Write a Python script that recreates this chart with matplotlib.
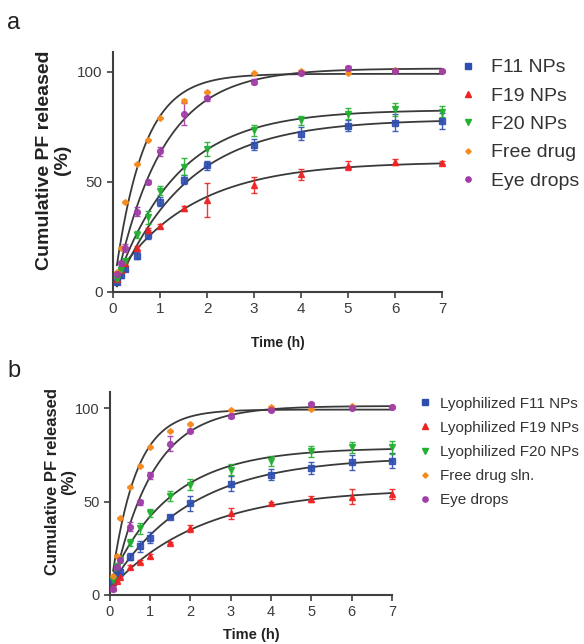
import numpy as np
import matplotlib
matplotlib.use("Agg")
import matplotlib.pyplot as plt
from matplotlib.lines import Line2D

plt.rcParams['font.family'] = ['Liberation Sans', 'DejaVu Sans']

# sampling times (h)
time_h = [0.083, 0.167, 0.25, 0.5, 0.75, 1, 1.5, 2, 3, 4, 5, 6, 7]

# ---- panel a: nanoparticle suspensions ----
a_f11 = [4.5, 7.5, 10.5, 16.5, 26, 41, 51, 57.5, 67, 72, 75.6, 77, 77.7]
a_f11_err = [1, 1, 1, 1.5, 2, 2, 2, 2, 2.5, 3, 2.5, 4, 3.5]
a_f19 = [6, 10, 13, 20, 28, 30, 38, 41.8, 48.6, 53.6, 57.3, 59, 58.8]
a_f19_err = [0.5, 1, 1, 1, 1, 1, 1, 7.5, 3.5, 2.5, 2, 1.5, 0.5]
a_f20 = [6, 10, 14, 26, 34, 46, 57, 65, 73.6, 78, 81, 83, 82]
a_f20_err = [1, 1, 1, 1.5, 3, 2, 4, 3, 2.5, 2, 2.5, 3, 2.5]
a_free = [9, 20, 41, 58, 69, 79, 87, 91, 99.4, 100.5, 99.7, 101, 100.5]
a_free_err = [0.5] * 13
a_eye = [8, 13, 20, 36.5, 50, 64, 81, 88, 95.6, 99.7, 102, 100.5, 100.3]
a_eye_err = [1, 1, 2, 2, 1, 2, 5, 1, 1, 0.5, 0.5, 0.5, 0.5]

# ---- panel b: lyophilized nanoparticles ----
b_f11 = [7, 10.7, 12.5, 20.5, 26, 30.7, 42, 49, 59.5, 64.3, 68, 71, 71.8]
b_f11_err = [1, 1, 1.5, 2, 3, 3, 1, 4, 4, 3, 3, 4, 4]
b_f19 = [4.5, 7.5, 9.8, 15, 17.9, 21, 28, 35.7, 43.8, 49, 51.4, 52.7, 54]
b_f19_err = [0.5, 0.5, 0.5, 1, 1, 1, 0.5, 2, 3, 1, 1.5, 4, 2.5]
b_f20 = [8, 15, 19, 28, 35.7, 43.8, 53, 59, 67, 71.8, 77, 79, 79]
b_f20_err = [2, 2, 2, 2, 3, 2, 2.5, 3, 3, 2.5, 3, 3, 3.5]
b_free = [10, 21, 41, 58, 69, 79, 88, 91.6, 99, 100.9, 99.5, 101, 100.4]
b_free_err = [0.5] * 13
b_eye = [3, 15, 19, 36.6, 49.6, 64, 81, 88, 96, 99, 102, 100, 100.4]
b_eye_err = [1, 1, 1, 2.5, 1.5, 2, 4, 1, 1, 0.5, 1, 0.5, 0.5]

labels_a = ["F11 NPs", "F19 NPs", "F20 NPs", "Free drug", "Eye drops"]
labels_b = ["Lyophilized F11 NPs", "Lyophilized F19 NPs", "Lyophilized F20 NPs",
            "Free drug sln.", "Eye drops"]

colors = ["#2f4fb0", "#ee2222", "#22b030", "#f58a1f", "#a03ca8"]
markers = ["s", "^", "v", "D", "o"]
msizes = [4.2, 4.2, 4.2, 3.0, 4.2]


def fit_first_order(t, y):
    """Least-squares fit of y = A - B*exp(-k t), grid over k."""
    t = np.asarray(t, float)
    y = np.asarray(y, float)
    best = None
    for k in np.linspace(0.05, 6, 3000):
        X = np.column_stack([np.ones_like(t), -np.exp(-k * t)])
        coef, *_ = np.linalg.lstsq(X, y, rcond=None)
        r = np.sum((X @ coef - y) ** 2)
        if best is None or r < best[0]:
            best = (r, k, coef)
    _, k, (A, B) = best
    return lambda tt: A - B * np.exp(-k * tt)


def draw_panel(ax, series, errs, fs_tick, fs_ylabel, fs_xlabel, ylim_top, xpad,
               ylabel_xy):
    tt = np.linspace(time_h[0], 7, 300)
    for y, e, c, m, ms in zip(series, errs, colors, markers, msizes):
        f = fit_first_order(time_h, y)
        ax.plot(tt, f(tt), color="#3a3a3a", lw=1.3, zorder=2)
        ax.errorbar(time_h, y, yerr=e, fmt=m, color=c, ecolor=c, ms=ms,
                    elinewidth=1.0, capsize=2.5, capthick=1.0,
                    zorder=3, clip_on=False, alpha=0.9)
    ax.set_xlim(0, 7)
    ax.set_ylim(0, ylim_top)
    ax.set_xticks(range(8))
    ax.set_yticks([0, 50, 100])
    for s in ("top", "right"):
        ax.spines[s].set_visible(False)
    for s in ("left", "bottom"):
        ax.spines[s].set_color("#404040")
        ax.spines[s].set_linewidth(1.5)
    ax.tick_params(direction="out", length=4, width=1.2, color="#404040",
                   labelsize=fs_tick, labelcolor="#3c3c3c")
    ax.set_xlabel("Time (h)", fontsize=fs_xlabel, fontweight="bold",
                  labelpad=xpad, color="#222222")
    ax.set_ylabel("Cumulative PF released\n(%)", fontsize=fs_ylabel,
                  fontweight="bold", linespacing=1.05, color="#222222")
    ax.yaxis.set_label_coords(*ylabel_xy)


def legend_handles():
    return [Line2D([], [], ls="none", marker=m, color=c, ms=ms * 0.9)
            for c, m, ms in zip(colors, markers, msizes)]


fig = plt.figure(figsize=(5.84, 6.44), dpi=100)

ax_a = fig.add_axes([0.1935, 0.5466, 0.5635, 0.3725])
draw_panel(ax_a, [a_f11, a_f19, a_f20, a_free, a_eye],
           [a_f11_err, a_f19_err, a_f20_err, a_free_err, a_eye_err],
           11, 14, 10, 109, 14, (-0.128, 0.55))
ax_a.legend(legend_handles(), labels_a, loc="upper left",
            bbox_to_anchor=(0.995, 1.045), frameon=False, fontsize=14,
            handletextpad=0.7, labelspacing=0.55, handlelength=1.0,
            labelcolor="#333333")

ax_b = fig.add_axes([0.188, 0.0761, 0.483, 0.315])
draw_panel(ax_b, [b_f11, b_f19, b_f20, b_free, b_eye],
           [b_f11_err, b_f19_err, b_f20_err, b_free_err, b_eye_err],
           10.5, 12, 10.5, 108.6, 6, (-0.12, 0.557))
ax_b.legend(legend_handles(), labels_b, loc="upper left",
            bbox_to_anchor=(1.04, 1.045), frameon=False, fontsize=11,
            handletextpad=0.5, labelspacing=0.66, handlelength=1.0,
            labelcolor="#333333")

fig.text(0.012, 0.955, "a", fontsize=17, color="#222222")
fig.text(0.012, 0.415, "b", fontsize=17, color="#222222")

fig.savefig("out.png", dpi=100)
